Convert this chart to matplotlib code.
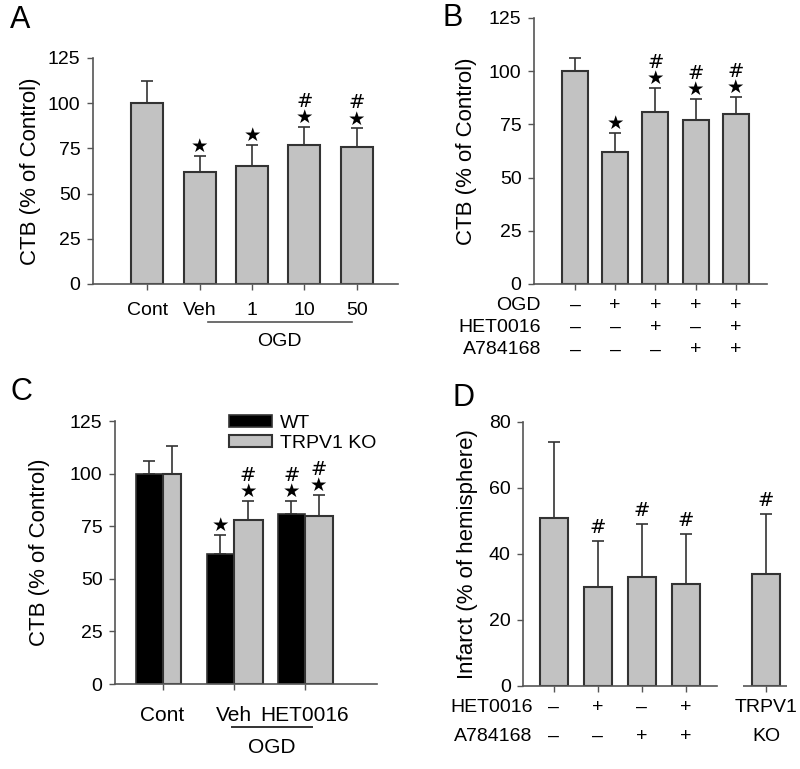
import matplotlib
matplotlib.use('Agg')
import matplotlib.pyplot as plt
import matplotlib.transforms as mtransforms
import numpy as np

plt.rcParams['font.family'] = ['Liberation Sans', 'DejaVu Sans']

# panel A
a_labels = ['Cont', 'Veh', '1', '10', '50']
a_vals = [100, 62, 65, 77, 76]
a_err = [112, 71, 77, 87, 86]
a_marks = ['', '*', '*', '#*', '#*']

# panel B
b_vals = [100, 62, 81, 77, 80]
b_err = [106, 71, 92, 87, 88]
b_marks = ['', '*', '#*', '#*', '#*']
b_rows = ['OGD', 'HET0016', 'A784168']
b_signs = [['–', '+', '+', '+', '+'],
           ['–', '–', '+', '–', '+'],
           ['–', '–', '–', '+', '+']]

# panel C
c_groups = ['Cont', 'Veh', 'HET0016']
c_wt = [100, 62, 81]
c_wt_err = [106, 71, 87]
c_wt_marks = ['', '*', '#*']
c_ko = [100, 78, 80]
c_ko_err = [113, 87, 90]
c_ko_marks = ['', '#*', '#*']

# panel D
d_vals = [51, 30, 33, 31, 34]
d_err = [74, 44, 49, 46, 52]
d_marks = ['', '#', '#', '#', '#']
d_pos = [0, 1, 2, 3, 4.82]
d_rows = ['HET0016', 'A784168']
d_signs = [['–', '+', '–', '+'],
           ['–', '–', '+', '+']]

GRAY = '#c2c2c2'
EDGE = '#333333'
TFS = 14

fig = plt.figure(figsize=(8, 7.69), dpi=100)


def style(ax, ymax, step):
    for s in ['top', 'right']:
        ax.spines[s].set_visible(False)
    for s in ['left', 'bottom']:
        ax.spines[s].set_color('#555555')
        ax.spines[s].set_linewidth(1.2)
    ax.set_ylim(0, ymax)
    ax.set_yticks(np.arange(0, ymax + 1, step))
    ax.tick_params(axis='both', direction='out', length=4, width=1,
                   color='#555555', labelsize=TFS, pad=5)


def bars(ax, x, vals, err, color=GRAY, width=0.6, align='center'):
    ax.bar(x, vals, width=width, color=color, edgecolor=EDGE,
           linewidth=1.5, align=align, zorder=2)


def errs(ax, x, vals, err):
    vals = np.array(vals, float)
    up = np.array(err, float) - vals
    ax.errorbar(x, vals, yerr=[np.zeros_like(up), up], fmt='none',
                ecolor=EDGE, elinewidth=1.2, capsize=4, capthick=1.2, zorder=1)


def marks(ax, x, err, labels):
    # one stacked label per bar: '#' over a star
    for xi, e, m in zip(x, err, labels):
        if not m:
            continue
        txt = m.replace('*', '★').replace('#★', '#\n★')
        off = 0 if '★' in txt else 3
        ax.annotate(txt, (xi, e), xytext=(0, off), textcoords='offset points',
                    ha='center', va='bottom', fontsize=14, linespacing=0.8,
                    family='DejaVu Sans', multialignment='center',
                    annotation_clip=False)


def ylab(ax, xfrac, text):
    ax.text(xfrac, 0.5, text, transform=ax.transAxes, rotation=90,
            ha='center', va='center', fontsize=16)


# ---- A ----
axA = fig.add_axes([0.1163, 0.6307, 0.381, 0.2939])
style(axA, 125, 25)
xa = np.arange(len(a_vals))
errs(axA, xa, a_vals, a_err)
bars(axA, xa, a_vals, a_err, width=0.61)
marks(axA, xa, a_err, a_marks)
axA.set_xlim(-1.03, 4.78)
axA.set_xticks(xa)
axA.set_xticklabels(a_labels)
axA.tick_params(axis='x', pad=9)
ylab(axA, -0.205, 'CTB (% of Control)')
tA = mtransforms.blended_transform_factory(axA.transData, axA.transAxes)
axA.plot([1.16, 3.9], [-0.168, -0.168], color='#555555', lw=1.2,
         transform=tA, clip_on=False)
axA.text(2.53, -0.255, 'OGD', transform=tA, ha='center', va='center',
         fontsize=TFS)

# ---- B ----
axB = fig.add_axes([0.6675, 0.6307, 0.291, 0.3459])
style(axB, 125, 25)
xb = np.arange(len(b_vals))
errs(axB, xb, b_vals, b_err)
bars(axB, xb, b_vals, b_err, width=0.65)
marks(axB, xb, b_err, b_marks)
axB.set_xlim(-1.02, 4.77)
axB.set_xticks(xb)
axB.set_xticklabels([])
ylab(axB, -0.29, 'CTB (% of Control)')
tB = mtransforms.blended_transform_factory(axB.transData, axB.transAxes)
for r, (name, signs) in enumerate(zip(b_rows, b_signs)):
    yy = -0.08 - 0.084 * r
    axB.text(0.03, yy, name, transform=axB.transAxes, ha='right',
             va='center', fontsize=TFS)
    for xi, s in zip(xb, signs):
        axB.text(xi, yy, s, transform=tB, ha='center', va='center',
                 fontsize=TFS)

# ---- C ----
axC = fig.add_axes([0.1438, 0.1105, 0.3275, 0.342])
style(axC, 125, 25)
xc = np.arange(len(c_groups))
wb = 0.37
wg = np.array([0.26, 0.41, 0.4])
errs(axC, xc - wb / 2, c_wt, c_wt_err)
errs(axC, xc + wg / 2, c_ko, c_ko_err)
axC.bar(xc - wb, c_wt, width=wb, align='edge', color='black',
        edgecolor=EDGE, linewidth=1.2, zorder=2, label='WT')
axC.bar(xc, c_ko, width=wg, align='edge', color=GRAY,
        edgecolor=EDGE, linewidth=1.5, zorder=2, label='TRPV1 KO')
marks(axC, xc - wb / 2, c_wt_err, c_wt_marks)
marks(axC, xc + wg / 2, c_ko_err, c_ko_marks)
axC.set_xlim(-0.67, 3.02)
axC.set_xticks(xc)
axC.set_xticklabels(c_groups)
axC.tick_params(axis='x', pad=12, labelsize=15)
ylab(axC, -0.29, 'CTB (% of Control)')
tC = mtransforms.blended_transform_factory(axC.transData, axC.transAxes)
axC.plot([0.98, 2.1], [-0.163, -0.163], color='#333333', lw=1.4,
         transform=tC, clip_on=False)
axC.text(1.54, -0.24, 'OGD', transform=tC, ha='center', va='center',
         fontsize=15)
axC.legend(loc='upper left', bbox_to_anchor=(0.37, 1.09), frameon=False,
           fontsize=TFS, handlelength=2.2, handleheight=0.55,
           labelspacing=0.15, handletextpad=0.4, borderaxespad=0.5)

# ---- D ----
axD = fig.add_axes([0.654, 0.108, 0.33, 0.3433])
style(axD, 80, 20)
errs(axD, d_pos, d_vals, d_err)
bars(axD, d_pos, d_vals, d_err, width=0.62)
marks(axD, d_pos, d_err, d_marks)
axD.set_xlim(-0.70, 5.3)
axD.spines['bottom'].set_bounds(-0.70, 3.7)
axD.hlines(0, 4.3, 5.3, color='#555555', lw=1.2, clip_on=False, zorder=3)
axD.set_xticks(d_pos)
axD.set_xticklabels([])
ylab(axD, -0.21, 'Infarct (% of hemisphere)')
tD = mtransforms.blended_transform_factory(axD.transData, axD.transAxes)
for r, (name, signs) in enumerate(zip(d_rows, d_signs)):
    yy = -0.08 - 0.11 * r
    axD.text(0.035, yy, name, transform=axD.transAxes, ha='right',
             va='center', fontsize=TFS)
    for xi, s in zip(d_pos, signs):
        axD.text(xi, yy, s, transform=tD, ha='center', va='center',
                 fontsize=TFS)
axD.text(d_pos[4], -0.08, 'TRPV1', transform=tD, ha='center', va='center',
         fontsize=TFS)
axD.text(d_pos[4], -0.19, 'KO', transform=tD, ha='center', va='center',
         fontsize=TFS)

# panel letters
fig.text(0.013, 0.974, 'A', fontsize=22, va='center')
fig.text(0.553, 0.976, 'B', fontsize=22, va='center')
fig.text(0.013, 0.49, 'C', fontsize=22, va='center')
fig.text(0.566, 0.482, 'D', fontsize=22, va='center')

fig.savefig('out.png', dpi=100)
